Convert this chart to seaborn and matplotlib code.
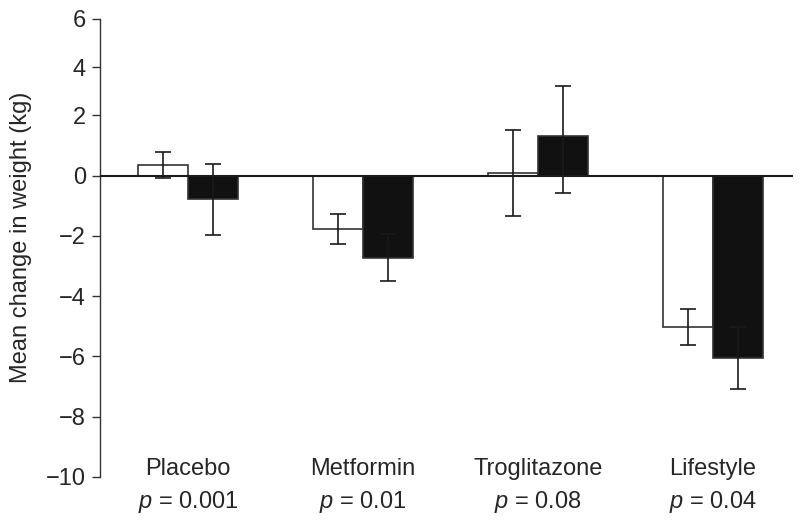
import numpy as np
import pandas as pd
import seaborn as sns
from matplotlib import pyplot as plt

treatments = ['Placebo', 'Metformin', 'Troglitazone', 'Lifestyle']
p_values = ['0.001', '0.01', '0.08', '0.04']
series = ['open', 'filled']
open_mean = [0.35, -1.77, 0.10, -5.03]
open_err = [0.43, 0.50, 1.43, 0.60]
filled_mean = [-0.78, -2.72, 1.32, -6.05]
filled_err = [1.18, 0.78, 1.90, 1.03]
y_ticks = [-10, -8, -6, -4, -2, 0, 2, 4, 6]

sns.set_style('ticks')
plt.rcParams['font.family'] = ['Liberation Sans', 'DejaVu Sans']
plt.rcParams['mathtext.fontset'] = 'custom'
plt.rcParams['mathtext.it'] = 'Liberation Sans:italic'
plt.rcParams['mathtext.rm'] = 'Liberation Sans'

df = pd.DataFrame({
    'treatment': treatments * 2,
    'group': [series[0]] * 4 + [series[1]] * 4,
    'change': open_mean + filled_mean,
})

fig = plt.figure(figsize=(8, 5.2), dpi=100)
ax = fig.add_axes([0.125, 0.0827, 0.866, 0.8808])

sns.barplot(data=df, x='treatment', y='change', hue='group', order=treatments,
            hue_order=series, palette={'open': 'white', 'filled': '#111111'},
            edgecolor='#333333', linewidth=1.2, width=0.57, gap=0,
            errorbar=None, legend=False, ax=ax)

# error bars on top of each bar
for cont, means, errs in zip(ax.containers, [open_mean, filled_mean], [open_err, filled_err]):
    xs = [p.get_x() + p.get_width() / 2 for p in cont.patches]
    ax.errorbar(xs, means, yerr=errs, fmt='none', ecolor='#1a1a1a',
                elinewidth=1.2, capsize=6, capthick=1.2, zorder=5)

ax.axhline(0, color='#1a1a1a', lw=1.5, zorder=6)

# the upper part of the original axis is squeezed above 2
def fwd(y):
    y = np.asarray(y, dtype=float)
    return np.where(y > 2, 2 + (y - 2) * 0.8, y)

def inv(t):
    t = np.asarray(t, dtype=float)
    return np.where(t > 2, 2 + (t - 2) / 0.8, t)

ax.set_yscale('function', functions=(fwd, inv))
ax.set_ylim(-10, 6)
ax.set_yticks(y_ticks)
ax.set_yticklabels([str(t).replace('-', '\u2212') for t in y_ticks])
ax.set_xlim(-0.503, 3.457)

ax.set_xticks(range(len(treatments)))
ax.set_xticklabels([f'{t}\n$p$ = {p}' for t, p in zip(treatments, p_values)])
for lab in ax.get_xticklabels():
    lab.set_linespacing(1.5)
ax.tick_params(axis='x', length=0, pad=-14, labelsize=17)
ax.tick_params(axis='y', length=6, width=1, labelsize=17, pad=4, color='#333333')

ax.set_xlabel('')
ax.set_ylabel('Mean change in weight (kg)', fontsize=17)
ax.yaxis.set_label_coords(-0.098, 0.524)
sns.despine(ax=ax, top=True, right=True, bottom=True)
ax.spines['left'].set_color('#333333')
ax.spines['left'].set_linewidth(1)

plt.savefig('out.png', dpi=100)
